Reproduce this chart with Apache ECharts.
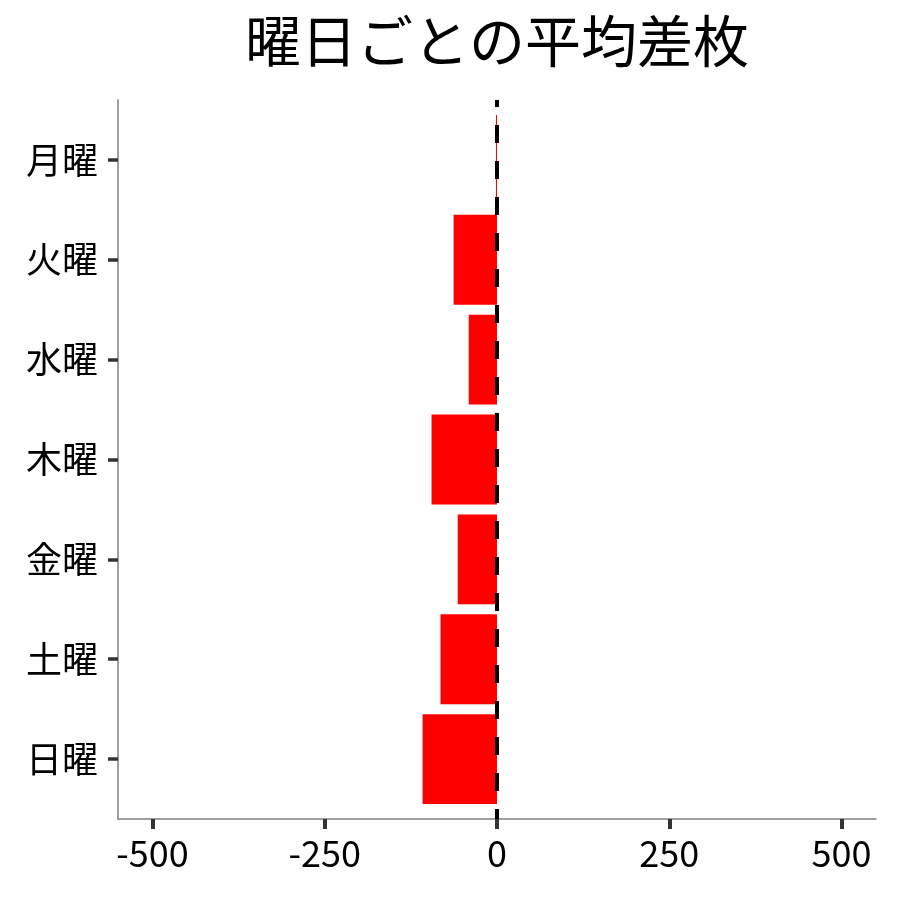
<!DOCTYPE html>
<html>
<head>
<meta charset="utf-8">
<script src="https://cdn.jsdelivr.net/npm/echarts@6/dist/echarts.min.js"></script>
<style>html,body{margin:0;padding:0;background:#fff}#c{width:900px;height:900px}</style>
</head>
<body>
<div id="c"></div>
<script>
const titleText = '曜日ごとの平均差枚';
const categories = ['月曜', '火曜', '水曜', '木曜', '金曜', '土曜', '日曜'];
const values = [-1.5, -63, -41, -95, -57, -82, -108];
const xTicks = [-500, -250, 0, 250, 500];
const xRange = [-550, 550];

const FONT = '"Noto Sans CJK JP", "Noto Sans", sans-serif';
const chart = echarts.init(document.getElementById('c'));
const data = values.map((v, i) => [v, i]);
const catIdx = categories.map((c, i) => i);

chart.setOption({
  animation: false,
  backgroundColor: '#ffffff',
  title: {
    text: titleText, left: 245, top: 13, padding: 0,
    textStyle: { fontFamily: FONT, fontSize: 56, fontWeight: 'normal', color: '#000' }
  },
  grid: { left: 118, right: 24, top: 100, bottom: 81, containLabel: false },
  xAxis: {
    type: 'value', min: xRange[0], max: xRange[1],
    axisLine: { show: true, onZero: false, lineStyle: { color: '#808080', width: 1.5 } },
    axisTick: { show: true, length: 10, customValues: xTicks, lineStyle: { color: '#333', width: 4 } },
    axisLabel: { customValues: xTicks, margin: 16, fontFamily: FONT, fontSize: 36, color: '#000' },
    splitLine: { show: false }
  },
  yAxis: {
    type: 'value', min: -0.6, max: categories.length - 0.4, inverse: true,
    axisLine: { show: true, onZero: false, lineStyle: { color: '#808080', width: 1.5 } },
    axisTick: { show: true, length: 10, customValues: catIdx, lineStyle: { color: '#333', width: 3.5 } },
    axisLabel: { customValues: catIdx, margin: 20, fontFamily: FONT, fontSize: 36, color: '#000',
      formatter: v => categories[Math.round(v)] || '' },
    splitLine: { show: false }
  },
  series: [{
    type: 'custom',
    encode: { x: 0, y: 1 },
    data: data,
    renderItem: function (params, api) {
      const v = api.value(0), i = api.value(1);
      const p1 = api.coord([v, i - 0.45]);
      const p2 = api.coord([0, i + 0.45]);
      return {
        type: 'rect',
        shape: { x: Math.min(p1[0], p2[0]), y: Math.min(p1[1], p2[1]),
                 width: Math.abs(p2[0] - p1[0]), height: Math.abs(p2[1] - p1[1]) },
        style: { fill: '#ff0000' }
      };
    },
    markLine: {
      silent: true, symbol: 'none', label: { show: false },
      lineStyle: { color: '#000', width: 4, type: [18, 18], dashOffset: 11 },
      data: [{ xAxis: 0 }]
    },
    z: 2
  }]
});
</script>
</body>
</html>
